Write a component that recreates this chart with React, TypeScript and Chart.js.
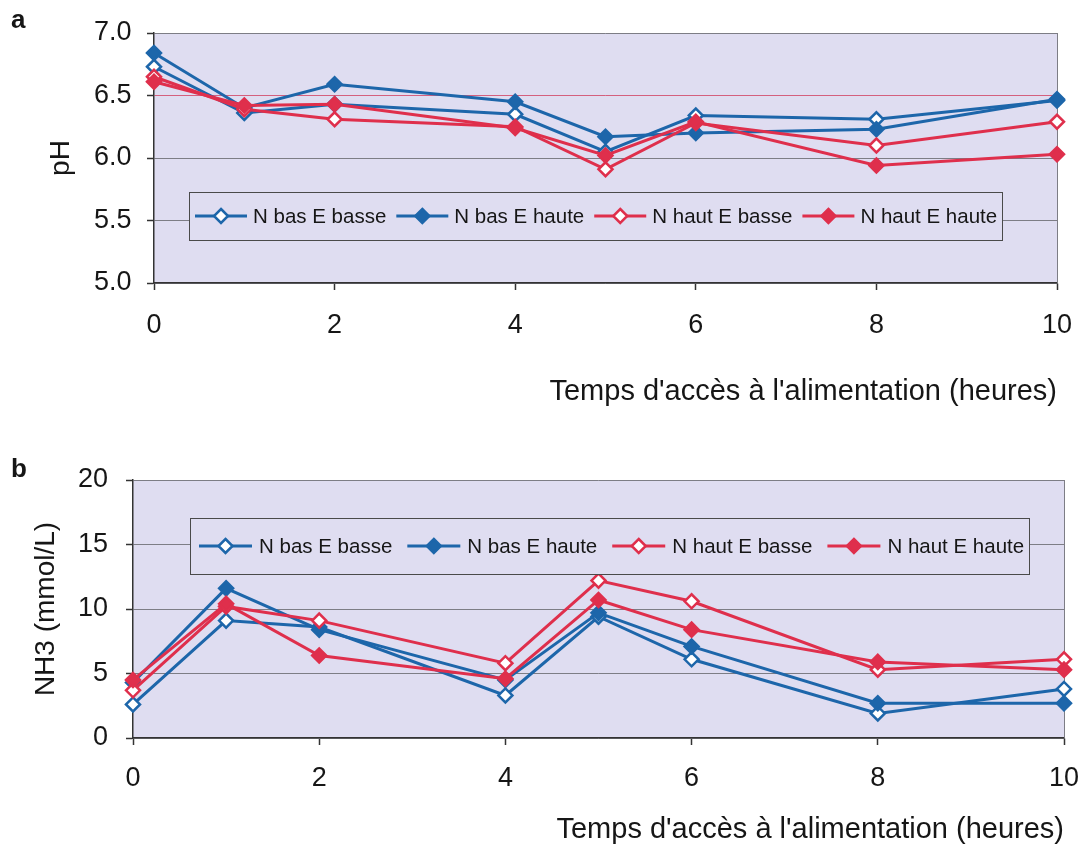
import React, { useEffect, useRef } from 'react';
import { Chart, registerables } from 'chart.js';

Chart.register(...registerables);

const FONT = '"Liberation Sans", Arial, Helvetica, sans-serif';

// ---- data ----
const hours = [0, 1, 2, 4, 5, 6, 8, 10];
const seriesLabels = ['N bas E basse', 'N bas E haute', 'N haut E basse', 'N haut E haute'];

const phNbasEbasse = [6.73, 6.36, 6.43, 6.35, 6.05, 6.34, 6.31, 6.46];
const phNbasEhaute = [6.84, 6.4, 6.59, 6.45, 6.17, 6.2, 6.23, 6.47];
const phNhautEbasse = [6.65, 6.39, 6.31, 6.25, 5.91, 6.28, 6.1, 6.29];
const phNhautEhaute = [6.61, 6.42, 6.43, 6.24, 6.02, 6.29, 5.94, 6.03];

const nh3NbasEbasse = [2.6, 9.1, 8.6, 3.3, 9.4, 6.1, 1.9, 3.8];
const nh3NbasEhaute = [4.3, 11.6, 8.4, 4.5, 9.7, 7.1, 2.7, 2.7];
const nh3NhautEbasse = [3.7, 10.2, 9.1, 5.8, 12.2, 10.6, 5.3, 6.1];
const nh3NhautEhaute = [4.5, 10.4, 6.4, 4.6, 10.7, 8.4, 5.9, 5.3];

const xTickValues = [0, 2, 4, 6, 8, 10];
const phTickValues = [5.0, 5.5, 6.0, 6.5, 7.0];
const nh3TickValues = [0, 5, 10, 15, 20];

const xAxisTitle = "Temps d'accès à l'alimentation (heures)";
const phAxisTitle = 'pH';
const nh3AxisTitle = 'NH3 (mmol/L)';

// ---- styles ----
const BLUE = '#1d66aa';
const RED = '#df2f4c';
const PLOT_BG = '#dfddf1';
const GRID = '#7d7d85';
const PINK_GRID = '#d4607e';
const AXIS = '#333333';
const TEXT = '#161616';
const seriesStyles = [
  { color: BLUE, open: true },
  { color: BLUE, open: false },
  { color: RED, open: true },
  { color: RED, open: false },
];

const plotFrame = {
  id: 'plotFrame',
  beforeDraw(chart: any, _args: any, opts: any) {
    const { ctx, chartArea: a } = chart;
    ctx.save();
    ctx.fillStyle = opts.fill;
    ctx.fillRect(a.left, a.top, a.right - a.left, a.bottom - a.top);
    ctx.restore();
  },
  beforeDatasetsDraw(chart: any, _args: any, opts: any) {
    const { ctx, chartArea: a } = chart;
    ctx.save();
    ctx.strokeStyle = opts.edge;
    ctx.lineWidth = 1;
    ctx.beginPath();
    const rx = Math.round(a.right) + 0.5;
    ctx.moveTo(rx, a.top);
    ctx.lineTo(rx, a.bottom);
    ctx.stroke();
    ctx.restore();
  },
};

const boxLegend = {
  id: 'boxLegend',
  afterDatasetsDraw(chart: any, _args: any, o: any) {
    const ctx = chart.ctx;
    ctx.save();
    ctx.fillStyle = o.fill;
    ctx.fillRect(o.x, o.y, o.w, o.h);
    ctx.strokeStyle = o.border;
    ctx.lineWidth = 1;
    ctx.strokeRect(o.x + 0.5, o.y + 0.5, o.w, o.h);
    ctx.font = `${o.fontSize}px ${FONT}`;
    ctx.textBaseline = 'middle';
    ctx.textAlign = 'left';
    const cy = o.y + o.h / 2;
    let x = o.x + o.padLeft;
    chart.data.datasets.forEach((ds: any) => {
      ctx.strokeStyle = ds.borderColor;
      ctx.lineWidth = ds.borderWidth;
      ctx.beginPath();
      ctx.moveTo(x, cy);
      ctx.lineTo(x + o.lineLen, cy);
      ctx.stroke();
      const cx = x + o.lineLen / 2;
      const r = ds.pointRadius;
      ctx.beginPath();
      ctx.moveTo(cx, cy - r);
      ctx.lineTo(cx + r, cy);
      ctx.lineTo(cx, cy + r);
      ctx.lineTo(cx - r, cy);
      ctx.closePath();
      ctx.fillStyle = ds.pointBackgroundColor;
      ctx.fill();
      ctx.lineWidth = ds.pointBorderWidth;
      ctx.strokeStyle = ds.pointBorderColor;
      ctx.stroke();
      x += o.lineLen + o.textGap;
      ctx.fillStyle = o.color;
      ctx.fillText(ds.label, x, cy + 1);
      x += ctx.measureText(ds.label).width + o.itemGap;
    });
    ctx.restore();
  },
};

function makeConfig(p: any) {
  return {
    type: 'line',
    data: {
      datasets: p.series.map((vals: number[], i: number) => {
        const st = seriesStyles[i];
        return {
          label: seriesLabels[i],
          data: hours.map((h, j) => ({ x: h, y: vals[j] })),
          borderColor: st.color,
          backgroundColor: st.color,
          borderWidth: 3,
          tension: 0,
          pointStyle: 'rectRot',
          pointRadius: 7,
          pointHoverRadius: 7,
          pointBorderWidth: 2.5,
          pointBorderColor: st.color,
          pointBackgroundColor: st.open ? '#ffffff' : st.color,
          clip: false,
          order: 3 - i,
        };
      }),
    },
    options: {
      responsive: false,
      animation: false,
      events: [],
      layout: { padding: { top: p.plotTop, right: p.padRight, left: 0, bottom: 0 } },
      plugins: {
        legend: { display: false },
        tooltip: { enabled: false },
        plotFrame: { fill: PLOT_BG, edge: GRID },
        boxLegend: {
          ...p.legend,
          fill: PLOT_BG,
          border: '#4a4a4a',
          color: TEXT,
          fontSize: 20.5,
        },
      },
      scales: {
        x: {
          type: 'linear',
          min: 0,
          max: 10,
          afterBuildTicks: (s: any) => {
            s.ticks = xTickValues.map((v) => ({ value: v }));
          },
          afterFit: (s: any) => {
            s.height = p.H - p.plotBottom;
            s.paddingLeft = 0;
            s.paddingRight = 0;
          },
          grid: {
            drawOnChartArea: false,
            drawTicks: true,
            tickLength: 7,
            tickColor: AXIS,
            tickWidth: 1.5,
          },
          border: { display: true, color: AXIS, width: 1.5 },
          ticks: {
            padding: p.xTickPad,
            color: TEXT,
            font: { family: FONT, size: 27 },
            maxRotation: 0,
          },
          title: {
            display: true,
            text: xAxisTitle,
            align: 'end',
            color: TEXT,
            font: { family: FONT, size: 29 },
            padding: { top: 0, bottom: p.xTitlePad },
          },
        },
        y: {
          type: 'linear',
          min: p.yMin,
          max: p.yMax,
          afterBuildTicks: (s: any) => {
            s.ticks = p.yTicks.map((v: number) => ({ value: v }));
          },
          afterFit: (s: any) => {
            s.width = p.plotLeft;
            s.paddingTop = 0;
            s.paddingBottom = 0;
          },
          grid: {
            drawOnChartArea: true,
            drawTicks: true,
            tickLength: 7,
            tickColor: AXIS,
            tickWidth: 1.5,
            lineWidth: 1,
            color: (c: any) =>
              p.highlight !== undefined && c.tick && Math.abs(c.tick.value - p.highlight) < 1e-9
                ? PINK_GRID
                : GRID,
          },
          border: { display: true, color: AXIS, width: 1.5 },
          ticks: {
            padding: p.yTickPad,
            color: TEXT,
            font: { family: FONT, size: 27 },
            callback: p.yFmt,
          },
          title: {
            display: true,
            text: p.yTitle,
            color: TEXT,
            font: { family: FONT, size: 28 },
            padding: { top: p.yTitlePad, bottom: 0 },
          },
        },
      },
    },
    plugins: [plotFrame, boxLegend],
  };
}

const configA = () =>
  makeConfig({
    H: 425,
    plotTop: 33,
    plotBottom: 283,
    plotLeft: 154,
    padRight: 27,
    yMin: 5,
    yMax: 7,
    yTicks: phTickValues,
    yFmt: (v: any) => Number(v).toFixed(1),
    yTitle: phAxisTitle,
    yTickPad: 15.5,
    yTitlePad: 44,
    xTickPad: 19.5,
    xTitlePad: 16,
    highlight: 6.5,
    series: [phNbasEbasse, phNbasEhaute, phNhautEbasse, phNhautEhaute],
    legend: { x: 189, y: 192, w: 813, h: 48, padLeft: 6, lineLen: 52, textGap: 6, itemGap: 10 },
  });

const configB = () =>
  makeConfig({
    H: 428,
    plotTop: 55,
    plotBottom: 313,
    plotLeft: 133,
    padRight: 20,
    yMin: 0,
    yMax: 20,
    yTicks: nh3TickValues,
    yFmt: (v: any) => String(v),
    yTitle: nh3AxisTitle,
    yTickPad: 18,
    yTitlePad: 29,
    xTickPad: 17,
    xTitlePad: 6,
    series: [nh3NbasEbasse, nh3NbasEhaute, nh3NhautEbasse, nh3NhautEhaute],
    legend: { x: 190, y: 93, w: 839, h: 56, padLeft: 9, lineLen: 53, textGap: 7, itemGap: 15 },
  });

const panelLabel = (top: number): React.CSSProperties => ({
  position: 'absolute',
  left: 11,
  top,
  fontFamily: FONT,
  fontWeight: 'bold',
  fontSize: 26,
  lineHeight: '26px',
  color: TEXT,
});

export default function App() {
  const refA = useRef<HTMLCanvasElement>(null);
  const refB = useRef<HTMLCanvasElement>(null);

  useEffect(() => {
    const a = new Chart(refA.current as HTMLCanvasElement, configA() as any);
    const b = new Chart(refB.current as HTMLCanvasElement, configB() as any);
    return () => {
      a.destroy();
      b.destroy();
    };
  }, []);

  return (
    <div
      style={{
        position: 'absolute',
        left: 0,
        top: 0,
        width: 1084,
        height: 853,
        background: '#ffffff',
        overflow: 'hidden',
      }}
    >
      <canvas ref={refA} width={1084} height={425} style={{ position: 'absolute', left: 0, top: 0 }} />
      <canvas ref={refB} width={1084} height={428} style={{ position: 'absolute', left: 0, top: 425 }} />
      <div style={panelLabel(6)}>a</div>
      <div style={panelLabel(455)}>b</div>
    </div>
  );
}
